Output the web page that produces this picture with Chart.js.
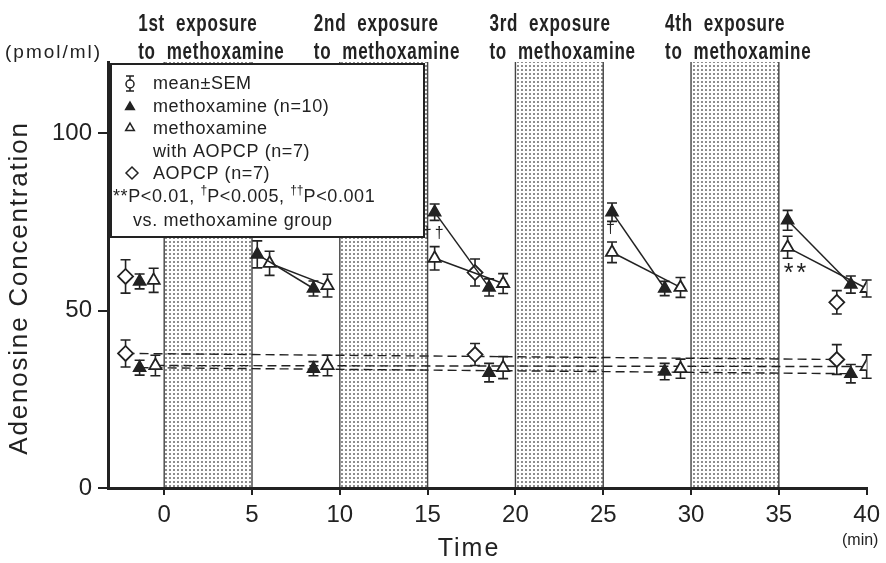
<!DOCTYPE html>
<html>
<head>
<meta charset="utf-8">
<script src="https://cdn.jsdelivr.net/npm/chart.js@4.4.1/dist/chart.umd.min.js"></script>
<style>
  html, body { margin: 0; background: #fff; }
</style>
</head>
<body>
<canvas id="chart" width="886" height="563"></canvas>
<script>
const xTicks = [0, 5, 10, 15, 20, 25, 30, 35, 40]
const yTicks = [0, 50, 100]

const exposureStart = [0, 10, 20, 30]
const exposureEnd = [5, 15, 25, 35]
const exposureLabels = ['1st exposure', '2nd exposure', '3rd exposure', '4th exposure']

// methoxamine (n=10): pre, then peak/post pairs for each exposure
const moxTime = [-1.4, 5.3, 8.5, 15.4, 18.5, 25.5, 28.5, 35.5, 39.1]
const moxMean = [58.2, 65.8, 56.2, 77.7, 56.5, 77.7, 56.2, 75.4, 57.3]
const moxSem = [2.1, 3.8, 2.1, 2.3, 2.4, 2.6, 2.0, 2.8, 2.4]

// methoxamine with AOPCP (n=7)
const moxAopTime = [-0.6, 6.0, 9.3, 15.4, 19.3, 25.5, 29.4, 35.5, 40.0]
const moxAopMean = [58.5, 63.3, 57.0, 64.7, 57.6, 66.4, 56.5, 67.8, 56.2]
const moxAopSem = [3.4, 3.4, 3.2, 3.3, 2.8, 2.9, 2.8, 3.1, 2.4]

// AOPCP (n=7)
const aopTime = [-2.2, 17.7, 38.3]
const aopMean = [59.6, 60.7, 52.3]
const aopSem = [4.7, 3.8, 3.3]

// baseline (lower) values
const moxBaseTime = [-1.4, 8.5, 18.5, 28.5, 39.1]
const moxBaseMean = [33.9, 33.6, 32.5, 32.8, 32.2]
const moxBaseSem = [2.1, 2.0, 2.6, 2.3, 2.6]

const moxAopBaseTime = [-0.5, 9.3, 19.3, 29.4, 40.0]
const moxAopBaseMean = [34.5, 34.5, 33.9, 33.6, 34.2]
const moxAopBaseSem = [2.9, 2.9, 3.1, 2.7, 3.3]

const aopBaseTime = [-2.2, 17.7, 38.3]
const aopBaseMean = [37.9, 37.6, 36.2]
const aopBaseSem = [3.8, 3.1, 4.2]

// significance marks vs. methoxamine group
const sigTime = [15.4, 25.5, 36.0]
const sigLevel = [71.8, 73.2, 61.3]
const sigText = ['††', '†', '**']

const ink = '#222'
const sans = '"Liberation Sans", Arial, sans-serif'

const pts = (t, v) => t.map((x, i) => ({ x, y: v[i] }))
const ends = (t, v) => [{ x: t[0], y: v[0] }, { x: t[t.length - 1], y: v[v.length - 1] }]

// only peak -> post segments are joined (peak points sit at odd indices)
const peakSegment = { borderColor: (c) => (c.p0DataIndex % 2 === 1 ? ink : 'rgba(0,0,0,0)') }

const filledTri = { pointStyle: 'triangle', pointRadius: 7, pointBackgroundColor: ink, pointBorderColor: ink, pointBorderWidth: 1.5 }
const openTri = { pointStyle: 'triangle', pointRadius: 7, pointBackgroundColor: '#fff', pointBorderColor: ink, pointBorderWidth: 1.8 }
const diamond = { pointStyle: 'rectRot', pointRadius: 7.5, pointBackgroundColor: '#fff', pointBorderColor: ink, pointBorderWidth: 1.8 }

const dashed = { pointRadius: 0, borderColor: ink, borderWidth: 1.4, borderDash: [9, 5], showLine: true }

const errorSets = [
  [moxTime, moxMean, moxSem],
  [moxAopTime, moxAopMean, moxAopSem],
  [aopTime, aopMean, aopSem],
  [moxBaseTime, moxBaseMean, moxBaseSem],
  [moxAopBaseTime, moxAopBaseMean, moxAopBaseSem],
  [aopBaseTime, aopBaseMean, aopBaseSem],
]

function dotPattern(ctx) {
  const c = document.createElement('canvas')
  c.width = 4
  c.height = 4
  const g = c.getContext('2d')
  g.fillStyle = '#fff'
  g.fillRect(0, 0, 4, 4)
  g.fillStyle = '#5e5e5e'
  g.beginPath()
  g.arc(2, 2, 0.95, 0, Math.PI * 2)
  g.fill()
  return ctx.createPattern(c, 'repeat')
}

function write(ctx, str, x, y, font, opts = {}) {
  ctx.save()
  ctx.font = font
  ctx.fillStyle = ink
  ctx.textAlign = opts.align || 'left'
  ctx.textBaseline = opts.baseline || 'alphabetic'
  ctx.letterSpacing = opts.spacing || '0px'
  ctx.translate(x, y)
  if (opts.rotate) ctx.rotate(opts.rotate)
  if (opts.squeeze) ctx.scale(opts.squeeze, 1)
  ctx.fillText(str, 0, 0)
  const w = ctx.measureText(str).width * (opts.squeeze || 1)
  ctx.restore()
  return w
}

const figure = {
  id: 'figure',
  beforeDraw(chart) {
    const { ctx, scales } = chart
    const x = scales.x
    const y = scales.y
    ctx.save()
    const pat = dotPattern(ctx)
    exposureStart.forEach((s, i) => {
      const x0 = x.getPixelForValue(s)
      const x1 = x.getPixelForValue(exposureEnd[i])
      const top = y.getPixelForValue(y.max)
      const bot = y.getPixelForValue(0)
      ctx.fillStyle = pat
      ctx.fillRect(x0, top, x1 - x0, bot - top)
      ctx.strokeStyle = '#444'
      ctx.lineWidth = 1.4
      ctx.beginPath()
      ctx.moveTo(x0, top)
      ctx.lineTo(x0, bot)
      ctx.moveTo(x1, top)
      ctx.lineTo(x1, bot)
      ctx.stroke()
    })
    ctx.restore()
  },
  beforeDatasetsDraw(chart) {
    const { ctx, scales } = chart
    ctx.save()
    ctx.strokeStyle = ink
    ctx.lineWidth = 1.6
    for (const [t, m, s] of errorSets) {
      t.forEach((tv, i) => {
        const px = scales.x.getPixelForValue(tv)
        const hi = scales.y.getPixelForValue(m[i] + s[i])
        const lo = scales.y.getPixelForValue(m[i] - s[i])
        ctx.beginPath()
        ctx.moveTo(px, hi)
        ctx.lineTo(px, lo)
        ctx.moveTo(px - 5, hi)
        ctx.lineTo(px + 5, hi)
        ctx.moveTo(px - 5, lo)
        ctx.lineTo(px + 5, lo)
        ctx.stroke()
      })
    }
    ctx.restore()
  },
  afterDraw(chart) {
    const { ctx, scales } = chart
    const x = scales.x
    const y = scales.y

    // exposure headings
    exposureStart.forEach((s, i) => {
      const lx = x.getPixelForValue(s) - 26
      write(ctx, exposureLabels[i].replace(' ', '  '), lx, 31, 'bold 23px ' + sans, { squeeze: 0.74, spacing: '1px' })
      write(ctx, 'to  methoxamine', lx, 59, 'bold 23px ' + sans, { squeeze: 0.74, spacing: '1px' })
    })

    // axis titles and units
    write(ctx, 'Adenosine Concentration', 27, 288, '26px ' + sans, { align: 'center', rotate: -Math.PI / 2, spacing: '1.8px' })
    write(ctx, 'Time', 469, 556, '25px ' + sans, { align: 'center', spacing: '2px' })
    write(ctx, '(min)', 842, 545, '16px ' + sans)
    write(ctx, '(pmol/ml)', 5, 58, '19px ' + sans, { spacing: '2px' })

    // significance marks
    sigTime.forEach((t, i) => {
      const f = sigText[i] === '**' ? '25px ' : '16px '
      const dy = sigText[i] === '**' ? 4 : 0
      write(ctx, sigText[i], x.getPixelForValue(t), y.getPixelForValue(sigLevel[i]) + dy, f + sans, { align: 'center', baseline: 'middle', spacing: '3px' })
    })

    // legend box
    ctx.save()
    ctx.fillStyle = '#fff'
    ctx.fillRect(111, 64, 313, 173)
    ctx.strokeStyle = ink
    ctx.lineWidth = 2
    ctx.strokeRect(111, 64, 313, 173)

    const sx = 130
    // mean ± SEM symbol
    ctx.lineWidth = 1.5
    ctx.beginPath()
    ctx.moveTo(sx, 76)
    ctx.lineTo(sx, 91)
    ctx.moveTo(sx - 4, 76)
    ctx.lineTo(sx + 4, 76)
    ctx.moveTo(sx - 4, 91)
    ctx.lineTo(sx + 4, 91)
    ctx.stroke()
    ctx.fillStyle = '#fff'
    ctx.beginPath()
    ctx.arc(sx, 84, 4, 0, Math.PI * 2)
    ctx.fill()
    ctx.stroke()

    ctx.fillStyle = ink
    Chart.helpers.drawPoint(ctx, { pointStyle: 'triangle', radius: 5, rotation: 0, borderWidth: 1 }, sx, 107)
    ctx.fillStyle = '#fff'
    Chart.helpers.drawPoint(ctx, { pointStyle: 'triangle', radius: 5, rotation: 0, borderWidth: 1.3 }, sx, 128)
    Chart.helpers.drawPoint(ctx, { pointStyle: 'rectRot', radius: 6, rotation: 0, borderWidth: 1.5 }, sx + 2, 173)
    ctx.restore()

    const lf = '18px ' + sans
    const sp = { spacing: '0.6px' }
    write(ctx, 'mean±SEM', 153, 89, lf, sp)
    write(ctx, 'methoxamine (n=10)', 153, 112, lf, sp)
    write(ctx, 'methoxamine', 153, 134, lf, sp)
    write(ctx, 'with AOPCP (n=7)', 153, 157, lf, sp)
    write(ctx, 'AOPCP (n=7)', 153, 179, lf, sp)
    let px = 113
    px += write(ctx, '**P<0.01, ', px, 202, lf, sp)
    px += write(ctx, '†', px, 194, '12px ' + sans)
    px += write(ctx, 'P<0.005, ', px, 202, lf, sp)
    px += write(ctx, '††', px, 194, '12px ' + sans)
    write(ctx, 'P<0.001', px, 202, lf, sp)
    write(ctx, 'vs. methoxamine group', 133, 226, lf, sp)
  },
}

new Chart(document.getElementById('chart'), {
  type: 'line',
  data: {
    datasets: [
      { data: pts(moxTime, moxMean), borderWidth: 1.5, segment: peakSegment, ...filledTri },
      { data: pts(moxAopTime, moxAopMean), borderWidth: 1.5, segment: peakSegment, ...openTri },
      { data: pts(aopTime, aopMean), showLine: false, ...diamond },
      { data: pts(moxBaseTime, moxBaseMean), showLine: false, ...filledTri },
      { data: pts(moxAopBaseTime, moxAopBaseMean), showLine: false, ...openTri },
      { data: pts(aopBaseTime, aopBaseMean), showLine: false, ...diamond },
      { data: ends(moxBaseTime, moxBaseMean), ...dashed },
      { data: ends(moxAopBaseTime, moxAopBaseMean), ...dashed },
      { data: ends(aopBaseTime, aopBaseMean), ...dashed },
    ],
  },
  options: {
    responsive: false,
    animation: false,
    layout: { padding: { left: 0, right: 13, top: 62, bottom: 0 } },
    plugins: { legend: false, tooltip: false },
    scales: {
      x: {
        type: 'linear',
        min: -3.2,
        max: 40,
        afterBuildTicks: (s) => { s.ticks = xTicks.map((v) => ({ value: v })) },
        afterFit: (s) => { s.height = 75 },
        grid: { drawOnChartArea: false, drawTicks: true, tickLength: 7, color: ink, lineWidth: 2 },
        border: { display: true, width: 3, color: ink },
        ticks: { color: ink, font: { family: sans, size: 24 }, padding: 6, maxRotation: 0 },
      },
      y: {
        min: 0,
        max: 120,
        afterBuildTicks: (s) => { s.ticks = yTicks.map((v) => ({ value: v })) },
        afterFit: (s) => { s.width = 108 },
        grid: { drawOnChartArea: false, drawTicks: true, tickLength: 10, color: ink, lineWidth: 2 },
        border: { display: true, width: 3, color: ink },
        ticks: { color: ink, font: { family: sans, size: 24 }, padding: 6 },
      },
    },
  },
  plugins: [figure],
})
</script>
</body>
</html>
